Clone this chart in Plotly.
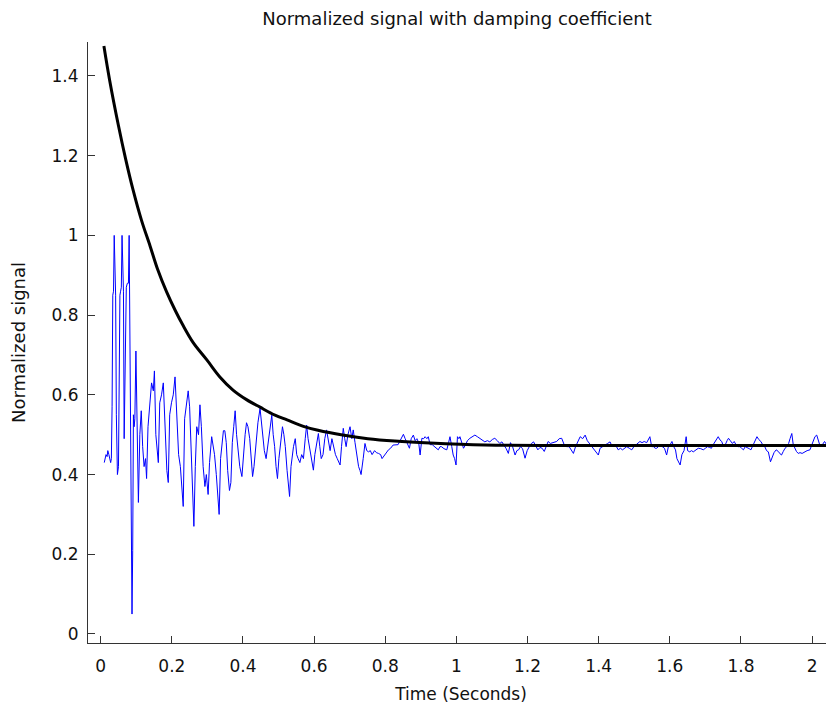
import plotly.graph_objects as go

# ---- blue signal: time (s) and normalized value ----
sig_t = [
    0.010, 0.013, 0.015, 0.018, 0.020, 0.023, 0.025, 0.028, 0.030, 0.032,
    0.034, 0.036, 0.038, 0.040, 0.042, 0.044, 0.047, 0.050, 0.052, 0.054,
    0.056, 0.058, 0.060, 0.062, 0.064, 0.066, 0.068, 0.070, 0.072, 0.075,
    0.078, 0.080, 0.082, 0.084, 0.086, 0.088, 0.090, 0.092, 0.094, 0.096,
    0.099, 0.102, 0.106, 0.110, 0.114, 0.118, 0.122, 0.126, 0.129, 0.133,
    0.138, 0.143, 0.148, 0.151, 0.155, 0.159, 0.162, 0.166, 0.171, 0.176,
    0.181, 0.186, 0.190, 0.194, 0.199, 0.204, 0.209, 0.214, 0.219, 0.224,
    0.228, 0.232, 0.236, 0.241, 0.246, 0.250, 0.255, 0.259, 0.262, 0.266,
    0.270, 0.275, 0.279, 0.283, 0.288, 0.293, 0.297, 0.302, 0.306, 0.312,
    0.316, 0.320, 0.325, 0.329, 0.333, 0.337, 0.341, 0.345, 0.349, 0.353,
    0.357, 0.362, 0.366, 0.370, 0.374, 0.378, 0.382, 0.386, 0.391, 0.397,
    0.402, 0.406, 0.410, 0.414, 0.419, 0.423, 0.427, 0.431, 0.436, 0.442,
    0.448, 0.452, 0.456, 0.460, 0.465, 0.469, 0.474, 0.478, 0.481, 0.485,
    0.489, 0.493, 0.497, 0.501, 0.506, 0.511, 0.515, 0.519, 0.524, 0.528,
    0.531, 0.535, 0.539, 0.542, 0.547, 0.551, 0.555, 0.560, 0.565, 0.570,
    0.575, 0.579, 0.583, 0.588, 0.593, 0.598, 0.602, 0.607, 0.612, 0.616,
    0.620, 0.625, 0.630, 0.635, 0.640, 0.645, 0.650, 0.655, 0.660, 0.665,
    0.670, 0.673, 0.677, 0.682, 0.686, 0.690, 0.695, 0.701, 0.706, 0.710,
    0.715, 0.720, 0.725, 0.729, 0.732, 0.738, 0.743, 0.748, 0.753, 0.758,
    0.763, 0.770, 0.775, 0.781, 0.787, 0.791, 0.795, 0.802, 0.809, 0.815,
    0.822, 0.836, 0.845, 0.851, 0.856, 0.860, 0.864, 0.868, 0.873, 0.879,
    0.884, 0.889, 0.894, 0.898, 0.903, 0.908, 0.912, 0.917, 0.921, 0.926,
    0.932, 0.938, 0.943, 0.949, 0.954, 0.958, 0.965, 0.973, 0.978, 0.982,
    0.987, 0.991, 0.995, 0.999, 1.003, 1.007, 1.010, 1.015, 1.020, 1.026,
    1.031, 1.038, 1.045, 1.052, 1.059, 1.066, 1.073, 1.080, 1.087, 1.094,
    1.101, 1.108, 1.115, 1.122, 1.128, 1.134, 1.140, 1.146, 1.152, 1.158,
    1.165, 1.170, 1.175, 1.180, 1.186, 1.193, 1.199, 1.205, 1.211, 1.217,
    1.223, 1.229, 1.235, 1.241, 1.247, 1.252, 1.258, 1.264, 1.270, 1.276,
    1.282, 1.289, 1.296, 1.303, 1.310, 1.317, 1.323, 1.329, 1.335, 1.341,
    1.348, 1.355, 1.362, 1.368, 1.374, 1.380, 1.385, 1.392, 1.399, 1.404,
    1.410, 1.418, 1.425, 1.432, 1.438, 1.444, 1.450, 1.455, 1.461, 1.467,
    1.473, 1.479, 1.486, 1.493, 1.499, 1.505, 1.511, 1.516, 1.522, 1.528,
    1.535, 1.540, 1.544, 1.549, 1.554, 1.559, 1.563, 1.568, 1.573, 1.579,
    1.585, 1.591, 1.596, 1.601, 1.606, 1.611, 1.616, 1.620, 1.624, 1.629,
    1.634, 1.640, 1.646, 1.650, 1.656, 1.661, 1.666, 1.673, 1.680, 1.687,
    1.694, 1.700, 1.706, 1.712, 1.717, 1.722, 1.727, 1.732, 1.736, 1.741,
    1.746, 1.751, 1.756, 1.761, 1.765, 1.770, 1.776, 1.781, 1.786, 1.792,
    1.797, 1.802, 1.807, 1.812, 1.818, 1.823, 1.828, 1.834, 1.840, 1.845,
    1.850, 1.856, 1.861, 1.867, 1.872, 1.877, 1.883, 1.888, 1.893, 1.899,
    1.905, 1.910, 1.914, 1.919, 1.924, 1.929, 1.934, 1.938, 1.943, 1.947,
    1.951, 1.956, 1.961, 1.966, 1.972, 1.979, 1.986, 1.994, 2.001, 2.008,
    2.013, 2.018, 2.023, 2.029, 2.035, 2.041, 2.046, 2.051, 2.056, 2.062,
]
sig_v = [
    0.43, 0.44, 0.45, 0.445, 0.46, 0.45, 0.44, 0.43, 0.44, 0.57,
    0.85, 0.86, 1.00, 0.86, 0.85, 0.55, 0.40, 0.42, 0.84, 0.85,
    0.86, 0.87, 1.00, 0.87, 0.86, 0.49, 0.63, 0.87, 0.87, 0.88,
    0.88, 1.00, 0.76, 0.29, 0.22, 0.05, 0.21, 0.55, 0.52, 0.54,
    0.71, 0.56, 0.33, 0.50, 0.56, 0.47, 0.42, 0.44, 0.39, 0.52,
    0.58, 0.63, 0.61, 0.66, 0.50, 0.46, 0.43, 0.58, 0.60, 0.63,
    0.52, 0.41, 0.38, 0.55, 0.58, 0.60, 0.645, 0.56, 0.45, 0.42,
    0.36, 0.32, 0.54, 0.58, 0.61, 0.57, 0.45, 0.34, 0.27, 0.42,
    0.52, 0.50, 0.575, 0.52, 0.42, 0.37, 0.40, 0.35, 0.43, 0.495,
    0.47, 0.45, 0.40, 0.36, 0.30, 0.44, 0.48, 0.51, 0.51, 0.48,
    0.41, 0.36, 0.38, 0.48, 0.52, 0.56, 0.50, 0.46, 0.42, 0.395,
    0.46, 0.50, 0.53, 0.52, 0.49, 0.43, 0.395, 0.42, 0.48, 0.53,
    0.566, 0.53, 0.49, 0.46, 0.44, 0.47, 0.51, 0.53, 0.549, 0.50,
    0.47, 0.42, 0.39, 0.44, 0.49, 0.52, 0.50, 0.47, 0.41, 0.36,
    0.345, 0.42, 0.45, 0.47, 0.49, 0.45, 0.44, 0.43, 0.45, 0.44,
    0.49, 0.524, 0.49, 0.46, 0.44, 0.411, 0.45, 0.48, 0.503, 0.47,
    0.44, 0.45, 0.49, 0.512, 0.48, 0.46, 0.49, 0.47, 0.45, 0.44,
    0.43, 0.424, 0.47, 0.516, 0.49, 0.47, 0.50, 0.52, 0.49, 0.512,
    0.48, 0.45, 0.42, 0.41, 0.40, 0.44, 0.478, 0.46, 0.457, 0.46,
    0.45, 0.46, 0.455, 0.453, 0.45, 0.44, 0.445, 0.455, 0.462, 0.466,
    0.474, 0.475, 0.49, 0.501, 0.49, 0.482, 0.47, 0.466, 0.49, 0.499,
    0.485, 0.49, 0.48, 0.449, 0.491, 0.49, 0.495, 0.49, 0.495, 0.475,
    0.475, 0.47, 0.465, 0.462, 0.47, 0.47, 0.465, 0.462, 0.48, 0.495,
    0.47, 0.449, 0.44, 0.424, 0.495, 0.49, 0.495, 0.48, 0.466, 0.475,
    0.485, 0.491, 0.495, 0.499, 0.495, 0.491, 0.485, 0.482, 0.485, 0.482,
    0.488, 0.491, 0.485, 0.478, 0.482, 0.475, 0.465, 0.453, 0.48, 0.47,
    0.449, 0.46, 0.462, 0.47, 0.465, 0.441, 0.46, 0.47, 0.478, 0.482,
    0.47, 0.462, 0.468, 0.466, 0.458, 0.47, 0.483, 0.478, 0.48, 0.483,
    0.483, 0.49, 0.491, 0.475, 0.47, 0.47, 0.46, 0.453, 0.47, 0.48,
    0.495, 0.49, 0.499, 0.485, 0.478, 0.47, 0.466, 0.455, 0.449, 0.466,
    0.47, 0.475, 0.478, 0.482, 0.47, 0.475, 0.47, 0.462, 0.466, 0.462,
    0.466, 0.47, 0.466, 0.462, 0.47, 0.475, 0.48, 0.483, 0.48, 0.483,
    0.48, 0.49, 0.495, 0.47, 0.47, 0.466, 0.466, 0.47, 0.475, 0.47,
    0.466, 0.449, 0.47, 0.475, 0.483, 0.47, 0.462, 0.44, 0.432, 0.424,
    0.45, 0.46, 0.495, 0.46, 0.457, 0.46, 0.457, 0.462, 0.466, 0.465,
    0.462, 0.466, 0.47, 0.468, 0.466, 0.475, 0.483, 0.49, 0.495, 0.487,
    0.483, 0.47, 0.475, 0.485, 0.491, 0.485, 0.478, 0.483, 0.475, 0.47,
    0.47, 0.466, 0.462, 0.47, 0.468, 0.465, 0.462, 0.475, 0.485, 0.495,
    0.488, 0.483, 0.475, 0.47, 0.46, 0.457, 0.432, 0.445, 0.455, 0.462,
    0.458, 0.452, 0.449, 0.458, 0.466, 0.47, 0.478, 0.49, 0.503, 0.475,
    0.466, 0.458, 0.453, 0.455, 0.453, 0.457, 0.46, 0.462, 0.48, 0.495,
    0.499, 0.485, 0.47, 0.475, 0.483, 0.475, 0.49, 0.499, 0.445, 0.46,
]

# ---- black damping curve ----
damp_t = [0.009, 0.025, 0.05, 0.07, 0.091, 0.115, 0.139, 0.16, 0.185, 0.21,
          0.231, 0.26, 0.299, 0.335, 0.372, 0.41, 0.448, 0.49, 0.524, 0.57,
          0.611, 0.68, 0.751, 0.827, 0.926, 1.08, 1.3, 1.6, 1.9, 2.07]
damp_v = [1.475, 1.39, 1.275, 1.192, 1.114, 1.037, 0.973, 0.915, 0.859, 0.811,
          0.775, 0.731, 0.687, 0.645, 0.612, 0.588, 0.569, 0.549, 0.537, 0.521,
          0.511, 0.499, 0.49, 0.484, 0.479, 0.474, 0.473, 0.473, 0.473, 0.473]

x_ticks = [0, 0.2, 0.4, 0.6, 0.8, 1, 1.2, 1.4, 1.6, 1.8, 2]
y_ticks = [0, 0.2, 0.4, 0.6, 0.8, 1, 1.2, 1.4]

FONT = "DejaVu Sans"
# the page body adds an 8px offset; the figure is sized to fill the rest
W, H = 826, 700

fig = go.Figure()
fig.add_trace(go.Scatter(x=sig_t, y=sig_v, mode="lines",
                         line=dict(color="#0000ff", width=1), showlegend=False))
fig.add_trace(go.Scatter(x=damp_t, y=damp_v, mode="lines",
                         line=dict(color="#000000", width=3, shape="spline"),
                         showlegend=False))

fig.update_layout(
    width=W, height=H,
    margin=dict(l=80, r=0, t=34, b=65, autoexpand=False),
    paper_bgcolor="white", plot_bgcolor="white",
    font=dict(family=FONT, size=17, color="#111"),
    title=dict(text="Normalized signal with damping coefficient",
               x=449 / W, xref="container", xanchor="center",
               y=1 - 11 / H, yref="container", yanchor="middle",
               font=dict(family=FONT, size=18, color="#111")),
)
fig.update_xaxes(range=[-0.0357, 2.0616], tickvals=x_ticks,
                 ticks="inside", ticklen=7, tickcolor="#333", tickwidth=1,
                 showline=True, linecolor="#333", linewidth=1, automargin=False,
                 showgrid=False, zeroline=False, ticklabelstandoff=8,
                 title=dict(text="Time (Seconds)", standoff=12,
                            font=dict(family=FONT, size=17)))
fig.update_yaxes(range=[-0.0226, 1.4852], tickvals=y_ticks,
                 ticks="inside", ticklen=7, tickcolor="#333", tickwidth=1,
                 showline=True, linecolor="#333", linewidth=1, automargin=False,
                 showgrid=False, zeroline=False, ticklabelstandoff=5,
                 title=dict(text="Normalized signal", standoff=26,
                            font=dict(family=FONT, size=18)))

fig.write_html("out.html")
